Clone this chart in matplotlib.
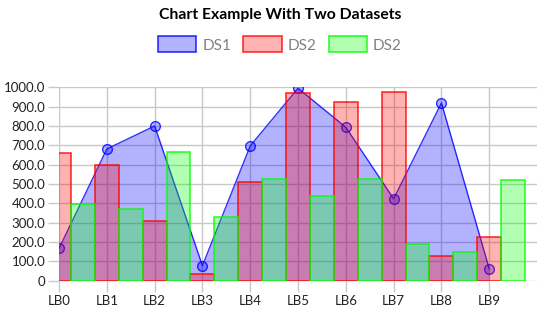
import matplotlib.pyplot as plt
import numpy as np
from matplotlib.patches import Patch

labels = ['LB0', 'LB1', 'LB2', 'LB3', 'LB4', 'LB5', 'LB6', 'LB7', 'LB8', 'LB9']
ds1 = [167, 681, 800, 78, 697, 995, 793, 424, 919, 62]
ds2_red = [660, 600, 307, 33, 510, 969, 926, 976, 129, 228]
ds2_green = [397, 372, 667, 329, 524, 436, 524, 188, 150, 522]
yticks = [0, 100, 200, 300, 400, 500, 600, 700, 800, 900, 1000]

plt.rcParams['font.family'] = ['Lato', 'DejaVu Sans']

fig = plt.figure(figsize=(5.6, 3.22), dpi=100)
ax = fig.add_axes([0.1054, 0.128, 0.8536, 0.601])

x = np.arange(len(labels))

# filled line first, bars drawn over it
ax.fill_between(x, ds1, 0, color=(0, 0, 1, 0.3), linewidth=0, zorder=2)
ax.plot(x, ds1, color=(0, 0, 1, 0.8), linewidth=1.0, zorder=2)
ax.plot(x, ds1, 'o', markersize=7, markerfacecolor=(0, 0, 1, 0.3),
        markeredgecolor=(0, 0, 1, 0.8), markeredgewidth=1.0, zorder=2)

# bars: red centred on the tick, green half a slot to the right
ax.bar(x, ds2_red, width=0.5, color=(1, 0, 0, 0.3), edgecolor=(1, 0, 0, 0.8),
       linewidth=1.2, zorder=3)
ax.bar(x + 0.5, ds2_green, width=0.5, color=(0, 1, 0, 0.3),
       edgecolor=(0, 1, 0, 0.8), linewidth=1.2, zorder=3)

ax.set_xlim(0, 10)
ax.set_ylim(0, 1000)
ax.set_xticks(x)
ax.set_xticklabels(labels)
ax.set_yticks(yticks)
ax.set_yticklabels(['0' if v == 0 else f'{v:.1f}' for v in yticks])

ax.grid(True, color='#c8c8c8', linewidth=1.0, zorder=0)
ax.set_axisbelow(True)
for s in ax.spines.values():
    s.set_visible(False)
ax.tick_params(axis='both', length=8, color='#c8c8c8', width=1.0,
               labelsize=9.5, labelcolor='#222222', pad=2)

fig.text(0.5, 0.953, 'Chart Example With Two Datasets', ha='center',
         va='center', fontsize=11.3, fontweight='bold')

handles = [
    Patch(facecolor=(0, 0, 1, 0.3), edgecolor=(0, 0, 1, 0.8), linewidth=1.2),
    Patch(facecolor=(1, 0, 0, 0.3), edgecolor=(1, 0, 0, 0.8), linewidth=1.2),
    Patch(facecolor=(0, 1, 0, 0.3), edgecolor=(0, 1, 0, 0.8), linewidth=1.2),
]
leg = fig.legend(handles, ['DS1', 'DS2', 'DS2'], loc='center',
                 bbox_to_anchor=(0.5, 0.862), ncol=3, frameon=False,
                 handlelength=2.5, handleheight=1.25, handletextpad=0.4,
                 columnspacing=0.8, fontsize=11)
for t in leg.get_texts():
    t.set_color('#808080')

fig.savefig('out.png', dpi=100)
